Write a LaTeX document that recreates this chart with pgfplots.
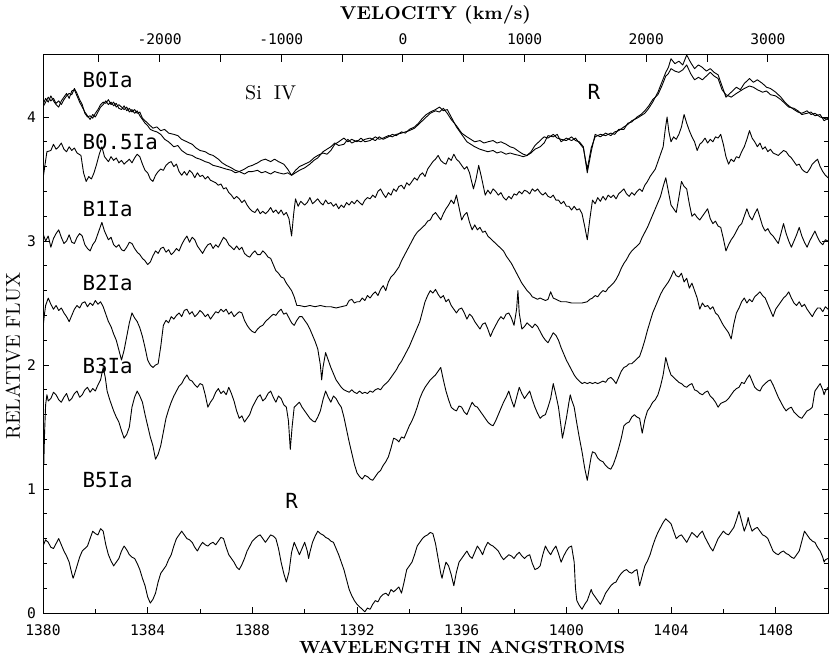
\documentclass[border=0pt]{standalone}
\usepackage{fontspec}
\usepackage{pgfplots}
\pgfplotsset{compat=1.18}
\newfontfamily\plotfont{DejaVu Sans Mono}

\pgfplotsset{spec/.style={black, line width=0.45pt, line join=round, mark=none}}

\begin{document}
\begin{tikzpicture}[x=1pt,y=1pt]
\useasboundingbox (-21.5,-23) rectangle (393,306.5);

% velocity scale on top
\begin{axis}[
  at={(0,0)}, anchor=south west,
  width=392.5pt, height=279pt, scale only axis,
  xmin=-2958.7, xmax=3494.2, ymin=0, ymax=1,
  axis x line*=top, axis y line=none,
  xtick={-2000,-1000,0,1000,2000,3000},
  xticklabels={-2000,-1000,0,1000,2000,3000},
  minor xtick={-2500,-1500,-500,500,1500,2500},
  tick align=inside,
  major tick length=3.3pt, minor tick length=3.3pt,
  tick style={black, line width=0.5pt},
  axis line style={line width=0.5pt},
  xticklabel style={font=\plotfont\fontsize{7.3}{8}\selectfont, yshift=1.5pt},
  xlabel={VELOCITY (km/s)},
  xlabel style={font=\bfseries\fontsize{9.3}{11}\selectfont, at={(axis description cs:0.5,1)}, anchor=base, yshift=17.5pt},
]
\end{axis}

\begin{axis}[
  at={(0,0)}, anchor=south west,
  width=392.5pt, height=279pt, scale only axis,
  xmin=1380, xmax=1410, ymin=0, ymax=4.5,
  xtick={1380,1384,...,1408},
  minor xtick={1382,1386,...,1410},
  xtick pos=bottom,
  ytick={0,1,2,3,4},
  minor y tick num=4,
  tick align=inside,
  major tick length=3pt, minor tick length=2pt,
  tick style={black, line width=0.5pt},
  axis line style={line width=0.5pt},
  /pgf/number format/assume math mode=true,
  /pgf/number format/1000 sep={},
  tick label style={font=\plotfont\fontsize{7.3}{8}\selectfont},
  xticklabel style={yshift=-2.5pt},
  xlabel={WAVELENGTH IN ANGSTROMS},
  xlabel style={font=\bfseries\fontsize{8.8}{11}\selectfont, at={(axis description cs:0.534,0)}, anchor=north, inner sep=0pt, yshift=-14pt},
  ylabel={RELATIVE FLUX},
  ylabel style={font=\rmfamily\fontsize{10}{12}\selectfont, at={(axis description cs:0,0.46)}, anchor=center, inner sep=0pt, yshift=15pt},
  clip=true,
]

% B0Ia, first star
\addplot[spec] coordinates {
(1380.0,4.10)(1380.1,4.15)(1380.2,4.12)(1380.3,4.17)(1380.4,4.13)(1380.5,4.10)(1380.6,4.08)(1380.7,4.13)(1380.8,4.16)(1380.9,4.19)
(1381.0,4.15)(1381.1,4.21)(1381.2,4.22)(1381.3,4.17)(1381.4,4.12)(1381.5,4.08)(1381.6,4.04)(1381.7,4.01)(1381.8,3.98)(1381.9,4.02)
(1382.0,4.00)(1382.1,4.04)(1382.2,4.08)(1382.3,4.10)(1382.4,4.13)(1382.5,4.10)(1382.6,4.12)(1382.7,4.09)(1382.8,4.11)(1382.9,4.07)
(1383.0,4.06)(1383.1,4.09)(1383.2,4.05)(1383.3,4.07)(1383.4,4.04)(1383.5,4.06)(1383.6,4.03)(1383.7,4.04)(1383.8,3.99)(1383.9,3.97)
(1384.0,3.95)(1384.1,3.93)(1384.2,3.91)(1384.35,3.92)(1384.5,3.89)(1384.65,3.90)(1384.8,3.87)(1385.0,3.86)(1385.15,3.85)(1385.3,3.82)
(1385.5,3.80)(1385.7,3.78)(1385.85,3.75)(1386.0,3.73)(1386.2,3.72)(1386.35,3.70)(1386.5,3.69)(1386.7,3.66)(1386.85,3.63)(1387.0,3.61)
(1387.2,3.59)(1387.35,3.57)(1387.5,3.56)(1387.7,3.58)(1387.85,3.60)(1388.0,3.61)(1388.2,3.63)(1388.35,3.65)(1388.5,3.66)(1388.7,3.64)
(1388.85,3.66)(1389.0,3.64)(1389.2,3.62)(1389.35,3.58)(1389.5,3.53)(1389.65,3.57)(1389.8,3.60)(1390.0,3.62)(1390.2,3.64)(1390.35,3.67)
(1390.5,3.69)(1390.7,3.71)(1390.85,3.70)(1391.0,3.73)(1391.15,3.78)(1391.3,3.80)(1391.5,3.83)(1391.65,3.80)(1391.8,3.82)(1392.0,3.80)
(1392.15,3.83)(1392.3,3.80)(1392.5,3.81)(1392.7,3.84)(1392.85,3.82)(1393.0,3.83)(1393.2,3.85)(1393.35,3.84)(1393.5,3.86)(1393.7,3.87)
(1393.85,3.88)(1394.0,3.89)(1394.2,3.91)(1394.35,3.94)(1394.5,3.97)(1394.65,4.00)(1394.8,4.03)(1395.0,4.05)(1395.15,4.04)(1395.3,4.07)
(1395.45,4.03)(1395.6,3.98)(1395.8,3.93)(1396.0,3.87)(1396.2,3.84)(1396.35,3.82)(1396.5,3.80)(1396.7,3.81)(1396.85,3.79)(1397.0,3.80)
(1397.2,3.81)(1397.35,3.79)(1397.5,3.80)(1397.7,3.78)(1397.85,3.76)(1398.0,3.75)(1398.2,3.72)(1398.35,3.70)(1398.5,3.69)(1398.65,3.72)
(1398.8,3.77)(1399.0,3.81)(1399.15,3.84)(1399.3,3.83)(1399.5,3.86)(1399.65,3.83)(1399.8,3.82)(1400.0,3.81)(1400.2,3.84)(1400.35,3.81)
(1400.5,3.80)(1400.65,3.76)(1400.8,3.55)(1400.95,3.72)(1401.1,3.86)(1401.3,3.84)(1401.5,3.87)(1401.7,3.85)(1401.85,3.88)(1402.0,3.89)
(1402.2,3.92)(1402.35,3.94)(1402.5,3.97)(1402.7,3.99)(1402.85,4.01)(1403.0,4.03)(1403.15,4.07)(1403.3,4.12)(1403.5,4.20)(1403.65,4.28)
(1403.8,4.36)(1403.9,4.40)(1404.0,4.47)(1404.15,4.43)(1404.3,4.45)(1404.45,4.42)(1404.6,4.50)(1404.75,4.44)(1404.9,4.39)(1405.05,4.42)
(1405.2,4.40)(1405.35,4.37)(1405.5,4.39)(1405.65,4.36)(1405.8,4.34)(1405.95,4.25)(1406.1,4.16)(1406.3,4.20)(1406.5,4.24)(1406.65,4.22)
(1406.8,4.27)(1407.0,4.31)(1407.15,4.28)(1407.3,4.30)(1407.5,4.27)(1407.65,4.24)(1407.8,4.23)(1408.0,4.20)(1408.2,4.16)(1408.35,4.12)
(1408.5,4.09)(1408.7,4.06)(1408.85,4.04)(1409.0,4.03)(1409.2,4.05)(1409.35,4.02)(1409.5,4.03)(1409.7,4.00)(1409.85,3.99)(1410.0,3.98)
};

% B0Ia, second star
\addplot[spec] coordinates {
(1380.0,4.08)(1380.1,4.12)(1380.2,4.16)(1380.3,4.13)(1380.4,4.15)(1380.5,4.11)(1380.6,4.13)(1380.7,4.10)(1380.8,4.14)(1380.9,4.17)
(1381.0,4.19)(1381.1,4.18)(1381.2,4.23)(1381.3,4.19)(1381.4,4.14)(1381.5,4.10)(1381.6,4.03)(1381.7,4.00)(1381.8,4.01)(1381.9,3.99)
(1382.0,4.03)(1382.1,4.06)(1382.2,4.10)(1382.3,4.12)(1382.4,4.11)(1382.5,4.14)(1382.6,4.10)(1382.7,4.12)(1382.8,4.08)(1382.9,4.10)
(1383.0,4.08)(1383.1,4.06)(1383.2,4.08)(1383.3,4.04)(1383.4,4.06)(1383.5,4.03)(1383.6,4.05)(1383.7,4.01)(1383.8,3.98)(1383.9,3.95)
(1384.0,3.93)(1384.1,3.90)(1384.2,3.89)(1384.35,3.88)(1384.5,3.86)(1384.65,3.82)(1384.8,3.80)(1385.0,3.76)(1385.15,3.77)(1385.3,3.73)
(1385.5,3.70)(1385.7,3.69)(1385.85,3.67)(1386.0,3.66)(1386.2,3.64)(1386.35,3.63)(1386.5,3.61)(1386.7,3.60)(1386.85,3.59)(1387.0,3.58)
(1387.2,3.57)(1387.35,3.55)(1387.5,3.56)(1387.7,3.54)(1387.85,3.56)(1388.0,3.56)(1388.2,3.57)(1388.35,3.55)(1388.5,3.56)(1388.7,3.54)
(1388.85,3.56)(1389.0,3.55)(1389.2,3.54)(1389.35,3.55)(1389.5,3.53)(1389.65,3.55)(1389.8,3.57)(1390.0,3.59)(1390.2,3.62)(1390.35,3.65)
(1390.5,3.67)(1390.7,3.72)(1390.85,3.74)(1391.0,3.76)(1391.15,3.79)(1391.3,3.77)(1391.5,3.78)(1391.65,3.82)(1391.8,3.79)(1392.0,3.81)
(1392.15,3.80)(1392.3,3.82)(1392.5,3.83)(1392.7,3.81)(1392.85,3.84)(1393.0,3.82)(1393.2,3.84)(1393.35,3.86)(1393.5,3.85)(1393.7,3.88)
(1393.85,3.87)(1394.0,3.90)(1394.2,3.92)(1394.35,3.95)(1394.5,3.99)(1394.65,4.02)(1394.8,4.04)(1395.0,4.06)(1395.15,4.08)(1395.3,4.05)
(1395.45,4.06)(1395.6,4.00)(1395.8,3.92)(1396.0,3.86)(1396.2,3.80)(1396.35,3.78)(1396.5,3.76)(1396.7,3.74)(1396.85,3.73)(1397.0,3.72)
(1397.2,3.73)(1397.35,3.71)(1397.5,3.72)(1397.7,3.70)(1397.85,3.71)(1398.0,3.70)(1398.2,3.69)(1398.35,3.68)(1398.5,3.69)(1398.65,3.71)
(1398.8,3.74)(1399.0,3.76)(1399.15,3.79)(1399.3,3.85)(1399.5,3.84)(1399.65,3.86)(1399.8,3.80)(1400.0,3.83)(1400.2,3.81)(1400.35,3.83)
(1400.5,3.79)(1400.65,3.75)(1400.8,3.58)(1400.95,3.75)(1401.1,3.84)(1401.3,3.86)(1401.5,3.85)(1401.7,3.87)(1401.85,3.86)(1402.0,3.90)
(1402.2,3.90)(1402.35,3.95)(1402.5,3.96)(1402.7,4.00)(1402.85,4.02)(1403.0,4.05)(1403.15,4.09)(1403.3,4.14)(1403.5,4.18)(1403.65,4.25)
(1403.8,4.33)(1403.9,4.35)(1404.0,4.39)(1404.15,4.37)(1404.3,4.36)(1404.45,4.38)(1404.6,4.42)(1404.75,4.35)(1404.9,4.30)(1405.05,4.32)
(1405.2,4.30)(1405.35,4.33)(1405.5,4.36)(1405.65,4.33)(1405.8,4.31)(1405.95,4.22)(1406.1,4.18)(1406.3,4.16)(1406.5,4.19)(1406.65,4.21)
(1406.8,4.23)(1407.0,4.25)(1407.15,4.24)(1407.3,4.22)(1407.5,4.20)(1407.65,4.21)(1407.8,4.18)(1408.0,4.17)(1408.2,4.14)(1408.35,4.11)
(1408.5,4.08)(1408.7,4.07)(1408.85,4.05)(1409.0,4.02)(1409.2,4.03)(1409.35,4.04)(1409.5,4.01)(1409.7,4.02)(1409.85,3.97)(1410.0,3.99)
};

% B0.5Ia
\addplot[spec] coordinates {
(1380.0,3.50)(1380.08,3.62)(1380.15,3.72)(1380.3,3.73)(1380.4,3.78)(1380.5,3.74)(1380.6,3.76)(1380.7,3.79)(1380.8,3.74)(1380.9,3.72)
(1381.0,3.76)(1381.1,3.73)(1381.2,3.75)(1381.3,3.71)(1381.45,3.69)(1381.55,3.55)(1381.65,3.48)(1381.75,3.52)(1381.85,3.50)(1381.95,3.55)
(1382.05,3.62)(1382.15,3.70)(1382.25,3.76)(1382.35,3.68)(1382.5,3.64)(1382.6,3.68)(1382.7,3.65)(1382.8,3.67)(1382.9,3.63)(1383.0,3.65)
(1383.1,3.62)(1383.2,3.64)(1383.3,3.66)(1383.4,3.63)(1383.5,3.67)(1383.6,3.70)(1383.7,3.68)(1383.8,3.62)(1383.9,3.57)(1384.0,3.55)
(1384.1,3.50)(1384.2,3.48)(1384.3,3.53)(1384.4,3.56)(1384.5,3.58)(1384.6,3.57)(1384.7,3.61)(1384.8,3.63)(1384.9,3.64)(1385.0,3.60)
(1385.1,3.62)(1385.2,3.56)(1385.3,3.53)(1385.4,3.56)(1385.5,3.53)(1385.6,3.57)(1385.7,3.55)(1385.8,3.51)(1385.9,3.55)(1386.0,3.52)
(1386.1,3.53)(1386.2,3.50)(1386.3,3.52)(1386.4,3.49)(1386.5,3.48)(1386.6,3.47)(1386.7,3.45)(1386.8,3.46)(1386.9,3.42)(1387.0,3.43)
(1387.1,3.39)(1387.2,3.37)(1387.3,3.34)(1387.4,3.36)(1387.5,3.34)(1387.6,3.31)(1387.7,3.33)(1387.8,3.29)(1387.9,3.26)(1388.0,3.24)
(1388.1,3.23)(1388.2,3.26)(1388.3,3.22)(1388.4,3.24)(1388.5,3.22)(1388.6,3.24)(1388.7,3.27)(1388.8,3.23)(1388.9,3.25)(1389.0,3.22)
(1389.1,3.25)(1389.2,3.21)(1389.3,3.23)(1389.4,3.18)(1389.5,3.04)(1389.58,3.22)(1389.65,3.34)(1389.75,3.28)(1389.85,3.32)(1390.0,3.29)
(1390.1,3.31)(1390.2,3.35)(1390.3,3.30)(1390.4,3.32)(1390.5,3.34)(1390.6,3.31)(1390.7,3.29)(1390.8,3.33)(1390.9,3.30)(1391.0,3.31)
(1391.1,3.28)(1391.2,3.30)(1391.3,3.26)(1391.4,3.29)(1391.5,3.27)(1391.6,3.31)(1391.7,3.29)(1391.8,3.32)(1391.9,3.30)(1392.0,3.33)
(1392.1,3.31)(1392.2,3.29)(1392.3,3.33)(1392.4,3.35)(1392.5,3.34)(1392.6,3.37)(1392.7,3.35)(1392.8,3.40)(1392.9,3.42)(1393.0,3.38)
(1393.1,3.35)(1393.2,3.39)(1393.3,3.37)(1393.4,3.42)(1393.5,3.40)(1393.6,3.44)(1393.7,3.45)(1393.8,3.42)(1393.9,3.47)(1394.0,3.45)
(1394.1,3.48)(1394.2,3.51)(1394.3,3.49)(1394.4,3.53)(1394.5,3.55)(1394.6,3.52)(1394.7,3.58)(1394.8,3.61)(1394.9,3.64)(1395.0,3.66)
(1395.1,3.69)(1395.2,3.65)(1395.3,3.63)(1395.4,3.62)(1395.5,3.67)(1395.6,3.65)(1395.7,3.70)(1395.8,3.66)(1395.9,3.64)(1396.0,3.61)
(1396.1,3.58)(1396.2,3.60)(1396.3,3.55)(1396.45,3.42)(1396.55,3.50)(1396.65,3.61)(1396.75,3.52)(1396.9,3.37)(1397.0,3.41)(1397.1,3.38)
(1397.2,3.42)(1397.3,3.40)(1397.4,3.37)(1397.5,3.39)(1397.6,3.35)(1397.7,3.33)(1397.8,3.36)(1397.9,3.34)(1398.0,3.38)(1398.1,3.37)
(1398.2,3.40)(1398.3,3.38)(1398.4,3.41)(1398.5,3.40)(1398.6,3.38)(1398.7,3.42)(1398.8,3.40)(1398.9,3.42)(1399.0,3.39)(1399.1,3.37)
(1399.2,3.39)(1399.3,3.36)(1399.4,3.35)(1399.5,3.37)(1399.6,3.33)(1399.7,3.33)(1399.8,3.30)(1399.9,3.32)(1400.0,3.28)(1400.1,3.28)
(1400.2,3.25)(1400.3,3.28)(1400.4,3.25)(1400.5,3.26)(1400.6,3.22)(1400.7,3.12)(1400.8,3.01)(1400.9,3.18)(1401.0,3.33)(1401.1,3.30)
(1401.2,3.35)(1401.3,3.32)(1401.4,3.36)(1401.5,3.33)(1401.6,3.37)(1401.7,3.35)(1401.8,3.37)(1401.9,3.34)(1402.0,3.38)(1402.1,3.40)
(1402.2,3.42)(1402.3,3.38)(1402.4,3.36)(1402.5,3.39)(1402.6,3.37)(1402.7,3.40)(1402.8,3.42)(1402.9,3.40)(1403.0,3.45)(1403.1,3.48)
(1403.2,3.52)(1403.3,3.55)(1403.4,3.58)(1403.5,3.64)(1403.6,3.70)(1403.7,3.76)(1403.78,3.90)(1403.85,4.00)(1403.92,3.88)(1404.0,3.80)
(1404.1,3.84)(1404.2,3.82)(1404.3,3.86)(1404.4,3.92)(1404.5,4.02)(1404.6,3.95)(1404.7,3.89)(1404.8,3.84)(1404.9,3.80)(1405.0,3.73)
(1405.1,3.78)(1405.2,3.80)(1405.3,3.83)(1405.4,3.79)(1405.5,3.82)(1405.6,3.80)(1405.7,3.84)(1405.8,3.83)(1405.9,3.86)(1406.0,3.78)
(1406.1,3.68)(1406.2,3.62)(1406.3,3.66)(1406.4,3.64)(1406.5,3.68)(1406.6,3.67)(1406.7,3.72)(1406.8,3.76)(1406.9,3.82)(1407.0,3.89)
(1407.1,3.83)(1407.2,3.80)(1407.3,3.76)(1407.4,3.79)(1407.5,3.74)(1407.6,3.76)(1407.7,3.72)(1407.8,3.74)(1407.9,3.71)(1408.0,3.70)
(1408.1,3.69)(1408.2,3.71)(1408.3,3.73)(1408.4,3.72)(1408.5,3.69)(1408.6,3.67)(1408.7,3.64)(1408.8,3.61)(1408.9,3.62)(1409.0,3.58)
(1409.1,3.56)(1409.2,3.55)(1409.3,3.58)(1409.4,3.62)(1409.5,3.64)(1409.6,3.66)(1409.7,3.60)(1409.8,3.56)(1409.9,3.53)(1410.0,3.51)
};

% B1Ia
\addplot[spec] coordinates {
(1380.0,3.06)(1380.1,3.00)(1380.2,3.04)(1380.3,2.95)(1380.4,3.02)(1380.5,3.06)(1380.6,3.09)(1380.7,3.03)(1380.8,2.98)(1380.9,3.00)
(1381.0,3.05)(1381.1,2.99)(1381.2,2.98)(1381.3,3.03)(1381.4,3.06)(1381.5,3.04)(1381.6,2.97)(1381.7,2.94)(1381.8,2.92)(1381.9,2.97)
(1382.0,3.00)(1382.1,3.06)(1382.2,3.12)(1382.25,3.15)(1382.35,3.08)(1382.5,3.01)(1382.6,3.03)(1382.7,2.97)(1382.8,2.95)(1382.9,2.97)
(1383.0,2.93)(1383.1,2.92)(1383.2,2.95)(1383.3,2.99)(1383.4,2.98)(1383.5,2.94)(1383.6,2.91)(1383.7,2.89)(1383.8,2.86)(1383.9,2.84)
(1384.0,2.81)(1384.1,2.83)(1384.2,2.88)(1384.3,2.92)(1384.4,2.90)(1384.5,2.94)(1384.6,2.95)(1384.7,2.91)(1384.8,2.93)(1384.9,2.89)
(1385.0,2.91)(1385.1,2.94)(1385.2,2.92)(1385.3,2.97)(1385.4,3.01)(1385.5,3.04)(1385.6,2.99)(1385.7,3.03)(1385.8,3.01)(1385.9,2.96)
(1386.0,2.93)(1386.1,2.90)(1386.2,2.94)(1386.3,2.97)(1386.4,2.98)(1386.5,2.94)(1386.6,2.97)(1386.7,2.95)(1386.8,2.99)(1386.9,3.03)
(1387.0,3.01)(1387.1,2.97)(1387.2,2.95)(1387.3,2.93)(1387.4,2.96)(1387.5,2.93)(1387.6,2.95)(1387.7,2.90)(1387.8,2.88)(1387.9,2.87)
(1388.0,2.90)(1388.1,2.92)(1388.2,2.89)(1388.3,2.89)(1388.4,2.92)(1388.5,2.90)(1388.6,2.87)(1388.7,2.86)(1388.8,2.81)(1388.9,2.76)
(1389.0,2.74)(1389.1,2.71)(1389.2,2.70)(1389.3,2.66)(1389.4,2.63)(1389.5,2.60)(1389.6,2.55)(1389.7,2.48)(1389.8,2.48)(1390.0,2.47)
(1390.2,2.48)(1390.4,2.47)(1390.6,2.48)(1390.8,2.47)(1391.0,2.47)(1391.2,2.46)(1391.4,2.47)(1391.6,2.48)(1391.7,2.52)(1391.8,2.53)
(1391.9,2.50)(1392.0,2.51)(1392.1,2.51)(1392.2,2.54)(1392.3,2.52)(1392.4,2.56)(1392.5,2.54)(1392.6,2.57)(1392.7,2.59)(1392.8,2.56)
(1392.9,2.61)(1393.0,2.64)(1393.1,2.60)(1393.2,2.67)(1393.3,2.71)(1393.4,2.73)(1393.5,2.76)(1393.6,2.79)(1393.7,2.84)(1393.8,2.88)
(1393.9,2.92)(1394.0,2.96)(1394.1,3.00)(1394.2,3.04)(1394.3,3.07)(1394.4,3.09)(1394.5,3.11)(1394.6,3.13)(1394.7,3.16)(1394.8,3.17)
(1394.9,3.21)(1395.0,3.23)(1395.1,3.20)(1395.2,3.17)(1395.3,3.22)(1395.4,3.26)(1395.5,3.29)(1395.6,3.33)(1395.7,3.30)(1395.8,3.37)
(1395.9,3.27)(1396.0,3.17)(1396.1,3.21)(1396.2,3.23)(1396.3,3.15)(1396.4,3.09)(1396.5,3.13)(1396.6,3.09)(1396.7,3.11)(1396.8,3.07)
(1396.9,3.08)(1397.0,3.04)(1397.1,3.02)(1397.2,3.00)(1397.3,2.98)(1397.4,2.96)(1397.5,2.94)(1397.6,2.92)(1397.7,2.88)(1397.8,2.85)
(1397.9,2.82)(1398.0,2.78)(1398.1,2.74)(1398.2,2.70)(1398.3,2.66)(1398.4,2.63)(1398.5,2.60)(1398.6,2.58)(1398.7,2.55)(1398.8,2.54)
(1398.9,2.53)(1399.0,2.54)(1399.1,2.53)(1399.2,2.52)(1399.3,2.53)(1399.4,2.59)(1399.5,2.54)(1399.6,2.53)(1399.8,2.51)(1400.0,2.51)
(1400.2,2.50)(1400.4,2.50)(1400.6,2.50)(1400.8,2.51)(1400.9,2.53)(1401.0,2.54)(1401.1,2.56)(1401.2,2.55)(1401.3,2.58)(1401.4,2.60)
(1401.5,2.59)(1401.6,2.62)(1401.7,2.64)(1401.8,2.66)(1401.9,2.69)(1402.0,2.73)(1402.1,2.78)(1402.2,2.82)(1402.3,2.85)(1402.4,2.89)
(1402.5,2.92)(1402.6,2.94)(1402.7,2.96)(1402.8,2.98)(1402.9,3.03)(1403.0,3.07)(1403.1,3.11)(1403.2,3.16)(1403.3,3.21)(1403.4,3.26)
(1403.5,3.31)(1403.6,3.36)(1403.7,3.44)(1403.8,3.51)(1403.9,3.40)(1404.0,3.29)(1404.1,3.26)(1404.2,3.23)(1404.3,3.35)(1404.4,3.48)
(1404.5,3.44)(1404.6,3.42)(1404.7,3.30)(1404.8,3.20)(1404.9,3.22)(1405.0,3.19)(1405.1,3.17)(1405.2,3.20)(1405.3,3.23)(1405.4,3.26)
(1405.5,3.18)(1405.6,3.14)(1405.7,3.16)(1405.8,3.12)(1405.9,3.11)(1406.0,3.02)(1406.1,2.92)(1406.2,2.97)(1406.3,3.01)(1406.4,3.04)
(1406.5,3.08)(1406.6,3.12)(1406.7,3.14)(1406.8,3.20)(1406.9,3.26)(1407.0,3.20)(1407.1,3.17)(1407.2,3.22)(1407.3,3.26)(1407.4,3.19)
(1407.5,3.12)(1407.6,3.08)(1407.7,3.10)(1407.8,3.06)(1407.9,3.04)(1408.0,3.01)(1408.1,2.98)(1408.2,3.06)(1408.3,3.14)(1408.4,3.06)
(1408.5,3.00)(1408.6,2.95)(1408.7,3.00)(1408.8,3.05)(1408.9,3.11)(1409.0,3.04)(1409.1,2.99)(1409.2,2.95)(1409.3,3.00)(1409.4,3.04)
(1409.5,3.08)(1409.6,3.03)(1409.7,2.99)(1409.8,2.97)(1409.9,3.01)(1410.0,3.00)
};

% B2Ia
\addplot[spec] coordinates {
(1380.0,2.30)(1380.05,2.40)(1380.1,2.48)(1380.2,2.54)(1380.3,2.49)(1380.4,2.45)(1380.5,2.48)(1380.6,2.44)(1380.7,2.46)(1380.8,2.42)
(1380.9,2.39)(1381.0,2.35)(1381.1,2.40)(1381.2,2.45)(1381.3,2.48)(1381.4,2.46)(1381.5,2.50)(1381.6,2.51)(1381.7,2.47)(1381.8,2.50)
(1381.9,2.48)(1382.0,2.52)(1382.1,2.49)(1382.2,2.51)(1382.3,2.47)(1382.4,2.41)(1382.5,2.35)(1382.6,2.31)(1382.7,2.25)(1382.8,2.20)
(1382.9,2.12)(1383.0,2.04)(1383.1,2.12)(1383.2,2.23)(1383.3,2.34)(1383.4,2.42)(1383.5,2.38)(1383.6,2.35)(1383.7,2.30)(1383.8,2.23)
(1383.9,2.14)(1384.0,2.04)(1384.1,2.00)(1384.2,1.98)(1384.3,2.00)(1384.4,2.01)(1384.5,2.15)(1384.6,2.32)(1384.7,2.36)(1384.8,2.34)
(1384.9,2.39)(1385.0,2.37)(1385.1,2.40)(1385.2,2.42)(1385.3,2.39)(1385.4,2.44)(1385.5,2.45)(1385.6,2.41)(1385.7,2.43)(1385.8,2.39)
(1385.9,2.41)(1386.0,2.44)(1386.1,2.42)(1386.2,2.39)(1386.3,2.41)(1386.4,2.37)(1386.5,2.40)(1386.6,2.43)(1386.7,2.42)(1386.8,2.45)
(1386.9,2.43)(1387.0,2.45)(1387.1,2.41)(1387.2,2.43)(1387.3,2.39)(1387.4,2.41)(1387.5,2.43)(1387.6,2.42)(1387.7,2.36)(1387.8,2.32)
(1387.9,2.29)(1388.0,2.27)(1388.1,2.26)(1388.2,2.29)(1388.3,2.31)(1388.4,2.32)(1388.5,2.35)(1388.6,2.37)(1388.7,2.39)(1388.8,2.41)
(1388.9,2.40)(1389.0,2.43)(1389.1,2.45)(1389.2,2.41)(1389.3,2.42)(1389.4,2.38)(1389.5,2.34)(1389.6,2.32)(1389.7,2.36)(1389.8,2.39)
(1389.9,2.39)(1390.0,2.36)(1390.1,2.33)(1390.2,2.29)(1390.3,2.24)(1390.4,2.19)(1390.5,2.13)(1390.6,2.00)(1390.65,1.88)(1390.7,1.98)
(1390.8,2.10)(1390.9,2.04)(1391.0,1.98)(1391.1,1.93)(1391.2,1.88)(1391.3,1.85)(1391.4,1.82)(1391.5,1.80)(1391.6,1.79)(1391.7,1.78)
(1391.8,1.80)(1391.9,1.78)(1392.0,1.77)(1392.1,1.79)(1392.2,1.77)(1392.3,1.78)(1392.4,1.77)(1392.5,1.79)(1392.6,1.78)(1392.7,1.80)
(1392.8,1.81)(1392.9,1.80)(1393.0,1.83)(1393.1,1.85)(1393.2,1.87)(1393.3,1.90)(1393.4,1.93)(1393.5,1.96)(1393.6,2.00)(1393.7,2.03)
(1393.8,2.07)(1393.9,2.11)(1394.0,2.15)(1394.1,2.20)(1394.2,2.25)(1394.3,2.30)(1394.4,2.35)(1394.5,2.43)(1394.6,2.51)(1394.7,2.56)
(1394.8,2.60)(1394.9,2.58)(1395.0,2.61)(1395.1,2.57)(1395.2,2.54)(1395.3,2.56)(1395.4,2.51)(1395.5,2.53)(1395.6,2.48)(1395.7,2.45)
(1395.8,2.42)(1395.9,2.45)(1396.0,2.46)(1396.1,2.42)(1396.2,2.37)(1396.3,2.41)(1396.4,2.39)(1396.5,2.35)(1396.6,2.32)(1396.7,2.29)
(1396.8,2.33)(1396.9,2.34)(1397.0,2.29)(1397.1,2.23)(1397.2,2.28)(1397.3,2.32)(1397.4,2.36)(1397.5,2.39)(1397.6,2.37)(1397.7,2.41)
(1397.8,2.42)(1397.9,2.38)(1398.0,2.32)(1398.1,2.45)(1398.15,2.60)(1398.2,2.42)(1398.3,2.29)(1398.4,2.31)(1398.5,2.34)(1398.6,2.32)
(1398.7,2.30)(1398.8,2.33)(1398.9,2.31)(1399.0,2.27)(1399.1,2.23)(1399.2,2.20)(1399.3,2.18)(1399.4,2.22)(1399.5,2.26)(1399.6,2.24)
(1399.7,2.20)(1399.8,2.14)(1399.9,2.09)(1400.0,2.04)(1400.1,2.00)(1400.2,1.96)(1400.3,1.92)(1400.4,1.89)(1400.5,1.87)(1400.6,1.85)
(1400.7,1.86)(1400.8,1.85)(1400.9,1.86)(1401.0,1.85)(1401.1,1.86)(1401.2,1.85)(1401.3,1.86)(1401.4,1.87)(1401.5,1.86)(1401.6,1.89)
(1401.7,1.90)(1401.8,1.88)(1401.9,1.85)(1402.0,1.90)(1402.1,1.95)(1402.2,1.98)(1402.3,1.99)(1402.4,2.01)(1402.5,2.01)(1402.6,2.03)
(1402.7,2.05)(1402.8,2.07)(1402.9,2.13)(1403.0,2.20)(1403.1,2.28)(1403.2,2.35)(1403.3,2.42)(1403.4,2.47)(1403.5,2.52)(1403.6,2.57)
(1403.7,2.61)(1403.8,2.64)(1403.9,2.67)(1404.0,2.71)(1404.1,2.76)(1404.2,2.72)(1404.3,2.71)(1404.4,2.74)(1404.5,2.67)(1404.6,2.70)
(1404.7,2.62)(1404.8,2.66)(1404.9,2.60)(1405.0,2.54)(1405.1,2.45)(1405.2,2.50)(1405.3,2.47)(1405.4,2.48)(1405.5,2.45)(1405.6,2.47)
(1405.7,2.42)(1405.8,2.40)(1405.9,2.36)(1406.0,2.32)(1406.1,2.29)(1406.2,2.26)(1406.3,2.21)(1406.4,2.33)(1406.5,2.42)(1406.6,2.46)
(1406.7,2.51)(1406.8,2.54)(1406.9,2.50)(1407.0,2.53)(1407.1,2.51)(1407.2,2.55)(1407.3,2.57)(1407.4,2.59)(1407.5,2.56)(1407.6,2.54)
(1407.7,2.49)(1407.8,2.44)(1407.9,2.39)(1408.0,2.45)(1408.1,2.48)(1408.2,2.51)(1408.3,2.54)(1408.4,2.56)(1408.5,2.59)(1408.6,2.54)
(1408.7,2.50)(1408.8,2.48)(1408.9,2.51)(1409.0,2.47)(1409.1,2.49)(1409.2,2.45)(1409.3,2.42)(1409.4,2.39)(1409.5,2.43)(1409.6,2.46)
(1409.7,2.46)(1409.8,2.43)(1409.9,2.47)(1410.0,2.45)
};

% B3Ia
\addplot[spec] coordinates {
(1380.0,1.35)(1380.03,1.20)(1380.06,1.45)(1380.1,1.68)(1380.15,1.76)(1380.2,1.71)(1380.3,1.73)(1380.4,1.78)(1380.5,1.76)(1380.6,1.72)
(1380.7,1.70)(1380.8,1.74)(1380.9,1.77)(1381.0,1.71)(1381.1,1.73)(1381.2,1.77)(1381.3,1.79)(1381.4,1.74)(1381.5,1.76)(1381.6,1.80)
(1381.7,1.82)(1381.8,1.78)(1381.9,1.81)(1382.0,1.79)(1382.1,1.84)(1382.2,1.88)(1382.3,1.98)(1382.38,1.90)(1382.45,1.79)(1382.55,1.72)
(1382.7,1.63)(1382.8,1.58)(1382.9,1.54)(1383.0,1.47)(1383.1,1.41)(1383.2,1.44)(1383.3,1.50)(1383.4,1.66)(1383.5,1.74)(1383.6,1.79)
(1383.7,1.75)(1383.8,1.70)(1383.9,1.60)(1384.0,1.51)(1384.1,1.42)(1384.2,1.35)(1384.3,1.24)(1384.4,1.28)(1384.5,1.35)(1384.6,1.46)
(1384.7,1.57)(1384.8,1.64)(1384.9,1.70)(1385.0,1.75)(1385.1,1.79)(1385.2,1.83)(1385.3,1.85)(1385.4,1.89)(1385.5,1.92)(1385.6,1.88)
(1385.7,1.87)(1385.8,1.84)(1385.9,1.82)(1386.0,1.85)(1386.1,1.84)(1386.2,1.76)(1386.3,1.66)(1386.4,1.70)(1386.5,1.73)(1386.6,1.78)
(1386.7,1.81)(1386.8,1.77)(1386.9,1.79)(1387.0,1.76)(1387.1,1.82)(1387.2,1.77)(1387.3,1.71)(1387.4,1.63)(1387.5,1.57)(1387.6,1.59)
(1387.7,1.54)(1387.8,1.57)(1387.9,1.60)(1388.0,1.66)(1388.1,1.70)(1388.2,1.74)(1388.3,1.76)(1388.4,1.71)(1388.5,1.73)(1388.6,1.77)
(1388.7,1.79)(1388.8,1.74)(1388.9,1.70)(1389.0,1.75)(1389.1,1.73)(1389.2,1.68)(1389.3,1.66)(1389.38,1.55)(1389.45,1.32)(1389.52,1.50)
(1389.6,1.66)(1389.7,1.68)(1389.8,1.70)(1389.9,1.66)(1390.0,1.63)(1390.1,1.60)(1390.2,1.57)(1390.3,1.55)(1390.4,1.54)(1390.5,1.58)
(1390.6,1.63)(1390.7,1.72)(1390.8,1.79)(1390.9,1.74)(1391.0,1.70)(1391.1,1.75)(1391.2,1.73)(1391.3,1.69)(1391.4,1.66)(1391.5,1.58)
(1391.6,1.48)(1391.7,1.38)(1391.8,1.29)(1391.9,1.20)(1392.0,1.13)(1392.1,1.10)(1392.2,1.08)(1392.3,1.11)(1392.4,1.10)(1392.5,1.08)
(1392.6,1.07)(1392.7,1.10)(1392.8,1.13)(1392.9,1.15)(1393.0,1.19)(1393.1,1.22)(1393.2,1.26)(1393.3,1.33)(1393.4,1.41)(1393.5,1.40)
(1393.6,1.38)(1393.7,1.42)(1393.8,1.41)(1393.9,1.46)(1394.0,1.51)(1394.1,1.55)(1394.2,1.60)(1394.3,1.66)(1394.4,1.73)(1394.5,1.78)
(1394.6,1.82)(1394.7,1.85)(1394.8,1.88)(1394.9,1.90)(1395.0,1.92)(1395.1,1.95)(1395.2,1.98)(1395.3,1.88)(1395.4,1.79)(1395.5,1.72)
(1395.6,1.66)(1395.7,1.64)(1395.8,1.63)(1395.9,1.67)(1396.0,1.66)(1396.1,1.62)(1396.2,1.60)(1396.3,1.65)(1396.4,1.70)(1396.5,1.67)
(1396.6,1.66)(1396.7,1.63)(1396.8,1.60)(1396.9,1.57)(1397.0,1.54)(1397.1,1.52)(1397.2,1.51)(1397.3,1.55)(1397.4,1.60)(1397.5,1.65)
(1397.6,1.70)(1397.7,1.74)(1397.8,1.79)(1397.9,1.72)(1398.0,1.66)(1398.1,1.74)(1398.2,1.82)(1398.3,1.77)(1398.4,1.73)(1398.5,1.76)
(1398.6,1.79)(1398.7,1.72)(1398.8,1.66)(1398.9,1.61)(1399.0,1.57)(1399.1,1.59)(1399.2,1.60)(1399.3,1.66)(1399.4,1.73)(1399.5,1.85)
(1399.6,1.76)(1399.7,1.66)(1399.8,1.50)(1399.85,1.41)(1399.9,1.46)(1400.0,1.57)(1400.1,1.70)(1400.15,1.76)(1400.2,1.72)(1400.3,1.66)
(1400.4,1.53)(1400.5,1.41)(1400.6,1.30)(1400.7,1.17)(1400.8,1.07)(1400.9,1.20)(1400.95,1.26)(1401.0,1.30)(1401.1,1.29)(1401.2,1.25)
(1401.3,1.23)(1401.4,1.22)(1401.5,1.19)(1401.6,1.17)(1401.7,1.16)(1401.8,1.20)(1401.9,1.26)(1402.0,1.33)(1402.1,1.41)(1402.2,1.51)
(1402.3,1.53)(1402.4,1.54)(1402.5,1.58)(1402.6,1.60)(1402.7,1.58)(1402.8,1.57)(1402.9,1.45)(1403.0,1.56)(1403.1,1.63)(1403.2,1.66)
(1403.3,1.70)(1403.4,1.72)(1403.5,1.76)(1403.6,1.83)(1403.7,1.92)(1403.8,2.06)(1403.9,1.98)(1404.0,1.92)(1404.1,1.90)(1404.2,1.88)
(1404.3,1.86)(1404.4,1.85)(1404.5,1.83)(1404.6,1.82)(1404.7,1.84)(1404.8,1.85)(1404.9,1.80)(1405.0,1.79)(1405.1,1.77)(1405.2,1.76)
(1405.3,1.78)(1405.4,1.79)(1405.5,1.75)(1405.6,1.73)(1405.7,1.70)(1405.8,1.66)(1405.9,1.69)(1406.0,1.70)(1406.1,1.71)(1406.2,1.73)
(1406.3,1.76)(1406.4,1.79)(1406.5,1.81)(1406.6,1.82)(1406.7,1.86)(1406.8,1.85)(1406.9,1.89)(1407.0,1.92)(1407.1,1.87)(1407.2,1.82)
(1407.3,1.80)(1407.4,1.79)(1407.5,1.83)(1407.6,1.85)(1407.7,1.87)(1407.8,1.88)(1407.9,1.84)(1408.0,1.79)(1408.1,1.74)(1408.2,1.70)
(1408.3,1.66)(1408.4,1.63)(1408.5,1.65)(1408.6,1.66)(1408.7,1.62)(1408.8,1.60)(1408.9,1.58)(1409.0,1.57)(1409.1,1.60)(1409.2,1.63)
(1409.3,1.64)(1409.4,1.66)(1409.5,1.79)(1409.6,1.82)(1409.7,1.85)(1409.8,1.80)(1409.85,1.76)(1409.9,1.79)(1410.0,1.82)
};

% B5Ia
\addplot[spec] coordinates {
(1380.0,0.54)(1380.1,0.59)(1380.2,0.57)(1380.3,0.53)(1380.4,0.52)(1380.5,0.56)(1380.6,0.60)(1380.7,0.55)(1380.8,0.50)(1380.9,0.46)
(1381.0,0.41)(1381.1,0.32)(1381.15,0.28)(1381.2,0.31)(1381.3,0.38)(1381.4,0.45)(1381.5,0.50)(1381.6,0.52)(1381.7,0.54)(1381.8,0.60)
(1381.9,0.66)(1382.0,0.64)(1382.1,0.63)(1382.2,0.68)(1382.3,0.66)(1382.4,0.55)(1382.5,0.47)(1382.6,0.42)(1382.7,0.38)(1382.8,0.41)
(1382.9,0.44)(1383.0,0.50)(1383.1,0.54)(1383.2,0.51)(1383.3,0.47)(1383.4,0.45)(1383.5,0.44)(1383.6,0.40)(1383.7,0.35)(1383.8,0.28)
(1383.9,0.22)(1384.0,0.13)(1384.1,0.08)(1384.2,0.11)(1384.3,0.16)(1384.4,0.25)(1384.5,0.32)(1384.6,0.35)(1384.7,0.38)(1384.8,0.43)
(1384.9,0.47)(1385.0,0.54)(1385.1,0.60)(1385.2,0.63)(1385.3,0.66)(1385.4,0.63)(1385.5,0.60)(1385.6,0.59)(1385.7,0.57)(1385.8,0.53)
(1385.9,0.50)(1386.0,0.54)(1386.1,0.57)(1386.2,0.55)(1386.3,0.54)(1386.4,0.56)(1386.5,0.57)(1386.6,0.55)(1386.7,0.58)(1386.8,0.61)
(1386.9,0.60)(1387.0,0.53)(1387.1,0.47)(1387.2,0.44)(1387.3,0.41)(1387.4,0.37)(1387.5,0.35)(1387.6,0.39)(1387.7,0.44)(1387.8,0.50)
(1387.9,0.54)(1388.0,0.58)(1388.1,0.60)(1388.2,0.62)(1388.3,0.63)(1388.4,0.60)(1388.5,0.57)(1388.6,0.60)(1388.7,0.63)(1388.8,0.62)
(1388.9,0.60)(1389.0,0.52)(1389.1,0.41)(1389.2,0.32)(1389.3,0.25)(1389.4,0.33)(1389.45,0.41)(1389.5,0.49)(1389.6,0.57)(1389.7,0.52)
(1389.8,0.47)(1389.9,0.52)(1390.0,0.57)(1390.1,0.50)(1390.15,0.44)(1390.2,0.49)(1390.3,0.57)(1390.4,0.62)(1390.5,0.66)(1390.6,0.64)
(1390.7,0.63)(1390.8,0.61)(1390.9,0.60)(1391.0,0.58)(1391.1,0.57)(1391.2,0.52)(1391.3,0.47)(1391.4,0.41)(1391.5,0.35)(1391.6,0.27)
(1391.7,0.19)(1391.8,0.14)(1391.9,0.10)(1392.0,0.07)(1392.1,0.05)(1392.2,0.03)(1392.3,0.01)(1392.4,0.04)(1392.5,0.03)(1392.6,0.07)
(1392.7,0.10)(1392.8,0.09)(1392.9,0.13)(1393.0,0.15)(1393.1,0.16)(1393.2,0.14)(1393.3,0.19)(1393.4,0.17)(1393.5,0.19)(1393.6,0.21)
(1393.7,0.16)(1393.8,0.25)(1393.9,0.35)(1394.0,0.38)(1394.1,0.41)(1394.2,0.47)(1394.3,0.54)(1394.4,0.57)(1394.5,0.60)(1394.6,0.62)
(1394.7,0.63)(1394.8,0.65)(1394.9,0.64)(1395.0,0.56)(1395.1,0.44)(1395.2,0.32)(1395.25,0.28)(1395.3,0.33)(1395.4,0.41)(1395.5,0.38)
(1395.6,0.31)(1395.7,0.22)(1395.8,0.33)(1395.9,0.41)(1396.0,0.44)(1396.1,0.47)(1396.2,0.50)(1396.3,0.46)(1396.4,0.44)(1396.5,0.49)
(1396.6,0.54)(1396.7,0.51)(1396.8,0.47)(1396.9,0.53)(1397.0,0.57)(1397.1,0.55)(1397.2,0.54)(1397.3,0.52)(1397.4,0.50)(1397.5,0.46)
(1397.6,0.43)(1397.7,0.45)(1397.8,0.47)(1397.9,0.46)(1398.0,0.44)(1398.1,0.47)(1398.2,0.49)(1398.3,0.46)(1398.4,0.44)(1398.5,0.46)
(1398.6,0.47)(1398.7,0.40)(1398.8,0.35)(1398.9,0.36)(1399.0,0.38)(1399.1,0.47)(1399.2,0.54)(1399.3,0.50)(1399.4,0.47)(1399.5,0.51)
(1399.6,0.54)(1399.7,0.48)(1399.8,0.41)(1399.9,0.46)(1400.0,0.50)(1400.1,0.53)(1400.2,0.54)(1400.3,0.41)(1400.35,0.20)(1400.4,0.10)
(1400.5,0.06)(1400.6,0.03)(1400.7,0.07)(1400.8,0.10)(1400.9,0.16)(1400.95,0.19)(1401.0,0.16)(1401.1,0.13)(1401.2,0.10)(1401.3,0.07)
(1401.4,0.11)(1401.5,0.16)(1401.6,0.19)(1401.7,0.22)(1401.8,0.24)(1401.9,0.25)(1402.0,0.29)(1402.1,0.32)(1402.2,0.34)(1402.3,0.35)
(1402.4,0.33)(1402.5,0.32)(1402.6,0.34)(1402.7,0.35)(1402.8,0.22)(1402.9,0.30)(1403.0,0.38)(1403.1,0.42)(1403.2,0.47)(1403.3,0.54)
(1403.4,0.60)(1403.5,0.65)(1403.6,0.69)(1403.7,0.73)(1403.8,0.76)(1403.9,0.74)(1404.0,0.72)(1404.1,0.66)(1404.2,0.60)(1404.3,0.62)
(1404.4,0.63)(1404.5,0.60)(1404.6,0.57)(1404.7,0.61)(1404.8,0.65)(1404.9,0.63)(1405.0,0.61)(1405.1,0.64)(1405.2,0.66)(1405.3,0.61)
(1405.4,0.57)(1405.5,0.53)(1405.6,0.50)(1405.7,0.55)(1405.8,0.60)(1405.9,0.63)(1406.0,0.66)(1406.1,0.64)(1406.2,0.63)(1406.3,0.66)
(1406.4,0.69)(1406.5,0.75)(1406.6,0.82)(1406.7,0.74)(1406.8,0.66)(1406.9,0.72)(1406.95,0.77)(1407.0,0.72)(1407.1,0.66)(1407.2,0.68)
(1407.3,0.69)(1407.4,0.66)(1407.5,0.63)(1407.6,0.62)(1407.7,0.60)(1407.8,0.55)(1407.9,0.50)(1408.0,0.48)(1408.1,0.47)(1408.2,0.49)
(1408.3,0.50)(1408.4,0.48)(1408.5,0.47)(1408.6,0.45)(1408.7,0.44)(1408.8,0.47)(1408.9,0.50)(1409.0,0.58)(1409.1,0.66)(1409.2,0.63)
(1409.3,0.60)(1409.4,0.58)(1409.5,0.57)(1409.6,0.53)(1409.7,0.50)(1409.8,0.45)(1409.85,0.41)(1409.9,0.43)(1410.0,0.44)
};

\begin{scope}[every node/.style={font=\plotfont\fontsize{10.4}{12}\selectfont, anchor=west, inner sep=0pt}]
\node at (axis cs:1381.5,4.30) {B0Ia};
\node at (axis cs:1381.5,3.80) {B0.5Ia};
\node at (axis cs:1381.5,3.26) {B1Ia};
\node at (axis cs:1381.5,2.66) {B2Ia};
\node at (axis cs:1381.5,1.99) {B3Ia};
\node at (axis cs:1381.5,1.07) {B5Ia};
\node[anchor=center] at (axis cs:1401.05,4.20) {R};
\node[anchor=center] at (axis cs:1389.5,0.90) {R};
\end{scope}
\node[font=\rmfamily\fontsize{10}{12}\selectfont, inner sep=0pt] at (axis cs:1388.7,4.20) {Si\hspace{0.6em}IV};
\end{axis}
\end{tikzpicture}
\end{document}
